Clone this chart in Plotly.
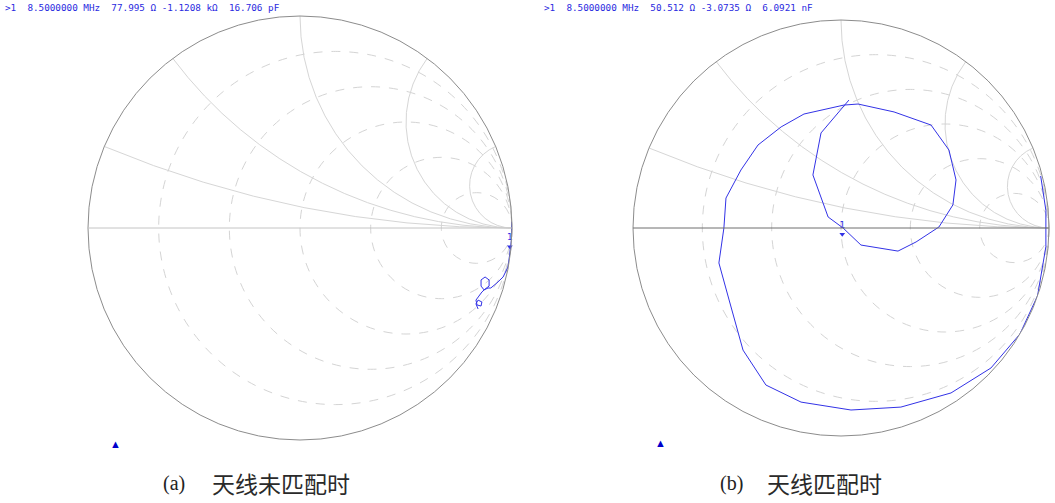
import numpy as np
import plotly.graph_objects as go

# ---- data (reflection coefficient, re / im) ----
left_gamma_re = [0.998, 0.998, 0.997, 0.990, 0.981, 0.958, 0.929, 0.900,
                 0.887, 0.868, 0.854, 0.854, 0.873, 0.892, 0.892, 0.873,
                 0.858, 0.844, 0.830, 0.835, 0.854, 0.858, 0.840, 0.830, 0.840]
left_gamma_im = [0.030, -0.010, -0.057, -0.118, -0.184, -0.231, -0.259, -0.283,
                 -0.283, -0.292, -0.274, -0.245, -0.231, -0.245, -0.274, -0.288,
                 -0.302, -0.321, -0.340, -0.363, -0.368, -0.349, -0.340, -0.358, -0.382]

right_gamma_re = [0.960, 0.985, 0.985, 0.945, 0.860, 0.721, 0.529, 0.288, 0.048,
                  -0.192, -0.361, -0.471, -0.538, -0.587, -0.563, -0.553, -0.481,
                  -0.399, -0.288, -0.178, 0.014, 0.082, 0.255, 0.433, 0.519, 0.553,
                  0.538, 0.471, 0.361, 0.274, 0.096, 0.010, -0.062, -0.135, -0.096,
                  0.038]
right_gamma_im = [0.250, 0.085, -0.090, -0.326, -0.510, -0.673, -0.793, -0.861, -0.875,
                  -0.837, -0.755, -0.587, -0.346, -0.168, 0.000, 0.144, 0.279,
                  0.399, 0.486, 0.548, 0.591, 0.596, 0.558, 0.495, 0.375, 0.231,
                  0.111, 0.005, -0.067, -0.111, -0.082, 0.000, 0.053, 0.255, 0.457,
                  0.615]

Z0 = 50.0
marker_left_ohm = [77.995, -1120.8]
marker_right_ohm = [50.512, -3.0735]

header_left = ">1  8.5000000 MHz  77.995 \u03a9 -1.1208 k\u03a9  16.706 pF"
header_right = ">1  8.5000000 MHz  50.512 \u03a9 -3.0735 \u03a9  6.0921 nF"
caption_tags = ["(a)", "(b)"]
caption_texts = ["天线未匹配时", "天线匹配时"]

grid_r = [0.2, 0.5, 1, 2, 5]
grid_x = [0.2, 0.5, 1, 2, 5]

BLUE = "#3232e6"
W, H = 1055, 503


def to_z(re, im):
    g = np.array(re) + 1j * np.array(im)
    z = (1 + g) / (1 - g)
    return z.real, z.imag


fig = go.Figure()

zl = to_z(left_gamma_re, left_gamma_im)
zr = to_z(right_gamma_re, right_gamma_im)

fig.add_trace(go.Scattersmith(real=zl[0], imag=zl[1], subplot="smith", mode="lines",
                              line=dict(color=BLUE, width=1), hoverinfo="skip"))
fig.add_trace(go.Scattersmith(real=zr[0], imag=zr[1], subplot="smith2", mode="lines",
                              line=dict(color=BLUE, width=1), hoverinfo="skip"))

for sp, m in (("smith", marker_left_ohm), ("smith2", marker_right_ohm)):
    fig.add_trace(go.Scattersmith(real=[m[0] / Z0], imag=[m[1] / Z0], subplot=sp,
                                  mode="markers+text", text=["1"], textposition="top center",
                                  textfont=dict(size=9, color=BLUE, family="DejaVu Sans"),
                                  marker=dict(symbol="triangle-down", size=5, color=BLUE),
                                  hoverinfo="skip"))


def smith_layout(xpix, ypix, axis_line):
    return dict(
        domain=dict(x=[xpix[0] / W, xpix[1] / W], y=[1 - ypix[1] / H, 1 - ypix[0] / H]),
        bgcolor="white",
        realaxis=dict(tickvals=grid_r, showticklabels=False, ticks="",
                      gridcolor="#d4d4d4", griddash="dash", gridwidth=1,
                      linecolor=axis_line, linewidth=1),
        imaginaryaxis=dict(tickvals=grid_x, showticklabels=False, ticks="",
                           gridcolor="#d6d6d6", gridwidth=1,
                           linecolor="#8c8c8c", linewidth=1),
    )


annotations = [
    dict(x=3 / W, y=1 - 8 / H, xref="paper", yref="paper", xanchor="left", yanchor="middle",
         text=header_left, showarrow=False,
         font=dict(family="DejaVu Sans Mono", size=9.3, color="#2a2ae0")),
    dict(x=542 / W, y=1 - 8 / H, xref="paper", yref="paper", xanchor="left", yanchor="middle",
         text=header_right, showarrow=False,
         font=dict(family="DejaVu Sans Mono", size=9.3, color="#2a2ae0")),
    dict(x=115 / W, y=1 - 443 / H, xref="paper", yref="paper", xanchor="center", yanchor="middle",
         text="\u25b2", showarrow=False, font=dict(size=11, color="#0000cc")),
    dict(x=660 / W, y=1 - 442 / H, xref="paper", yref="paper", xanchor="center", yanchor="middle",
         text="\u25b2", showarrow=False, font=dict(size=11, color="#0000cc")),
]
for tag, txt, xt, xc in ((caption_tags[0], caption_texts[0], 161, 210),
                         (caption_tags[1], caption_texts[1], 718, 765)):
    annotations.append(dict(x=xt / W, y=1 - 483 / H, xref="paper", yref="paper",
                            xanchor="left", yanchor="middle", text=tag, showarrow=False,
                            font=dict(family="Liberation Serif", size=20, color="#222222")))
    annotations.append(dict(x=xc / W, y=1 - 483 / H, xref="paper", yref="paper",
                            xanchor="left", yanchor="middle", text=txt, showarrow=False,
                            font=dict(family="Noto Sans CJK SC", size=23, color="#2a2a2a")))

fig.update_layout(
    width=W, height=H,
    margin=dict(l=0, r=0, t=0, b=0),
    paper_bgcolor="white",
    showlegend=False,
    smith=smith_layout((88, 512), (16, 440), "#c4c4c4"),
    smith2=smith_layout((633, 1049), (20, 436), "#6e6e6e"),
    annotations=annotations,
)

fig.write_html("out.html", config={"displayModeBar": False},
               post_script="document.body.style.margin='0';document.body.style.padding='0';")
